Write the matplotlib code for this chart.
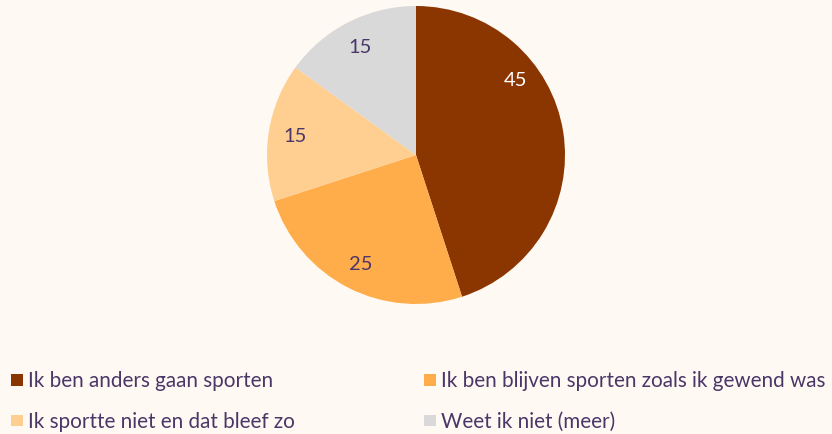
import matplotlib.pyplot as plt
import numpy as np
from matplotlib.patches import Rectangle

# data
labels = [
    "Ik ben anders gaan sporten",
    "Ik ben blijven sporten zoals ik gewend was",
    "Ik sportte niet en dat bleef zo",
    "Weet ik niet (meer)",
]
values = [45, 25, 15, 15]
colors = ["#8B3500", "#FFAD4A", "#FFCE91", "#D9D9D9"]
label_colors = ["white", "#4B3668", "#4B3668", "#4B3668"]

BG = "#FFF9F3"
TEXT = "#4B3668"
W, H = 832, 435

plt.rcParams["font.family"] = ["Lato", "DejaVu Sans"]

fig = plt.figure(figsize=(W / 100, H / 100), dpi=100, facecolor=BG)

# pie axes: centre (416, 156) px, radius 149 px
r_px = 149
ax = fig.add_axes([(416 - r_px) / W, (H - 156 - r_px) / H, 2 * r_px / W, 2 * r_px / H])
ax.set_facecolor(BG)
wedges, texts = ax.pie(
    values,
    colors=colors,
    startangle=90,
    counterclock=False,
    labels=[str(v) for v in values],
    labeldistance=0.82,
    wedgeprops=dict(linewidth=0),
)
for t, c in zip(texts, label_colors):
    t.set_color(c)
    t.set_fontsize(14.5)
    t.set_ha("center")
    t.set_va("center")
# the big slice's label sits higher up in the reference
ang = np.radians(37)
texts[0].set_position((0.84 * np.cos(ang), 0.84 * np.sin(ang)))
ax.set_xlim(-1, 1)
ax.set_ylim(-1, 1)
ax.set_aspect("equal")
ax.axis("off")

# legend, two columns, drawn by hand to match the reference layout
col_x = [11, 424]
row_y = [381, 421.5]
sq = 11.7
for i, (lab, c) in enumerate(zip(labels, colors)):
    x0 = col_x[i % 2]
    yc = row_y[i // 2]
    fig.patches.append(Rectangle((x0 / W, (H - yc - sq / 2) / H), sq / W, sq / H,
                                 facecolor=c, edgecolor="none",
                                 transform=fig.transFigure, figure=fig))
    fig.text((x0 + sq + 5.5) / W, (H - yc - 6.5) / H, lab, color=TEXT,
             fontsize=14.9, ha="left", va="baseline")

fig.savefig("out.png", dpi=100, facecolor=BG)
